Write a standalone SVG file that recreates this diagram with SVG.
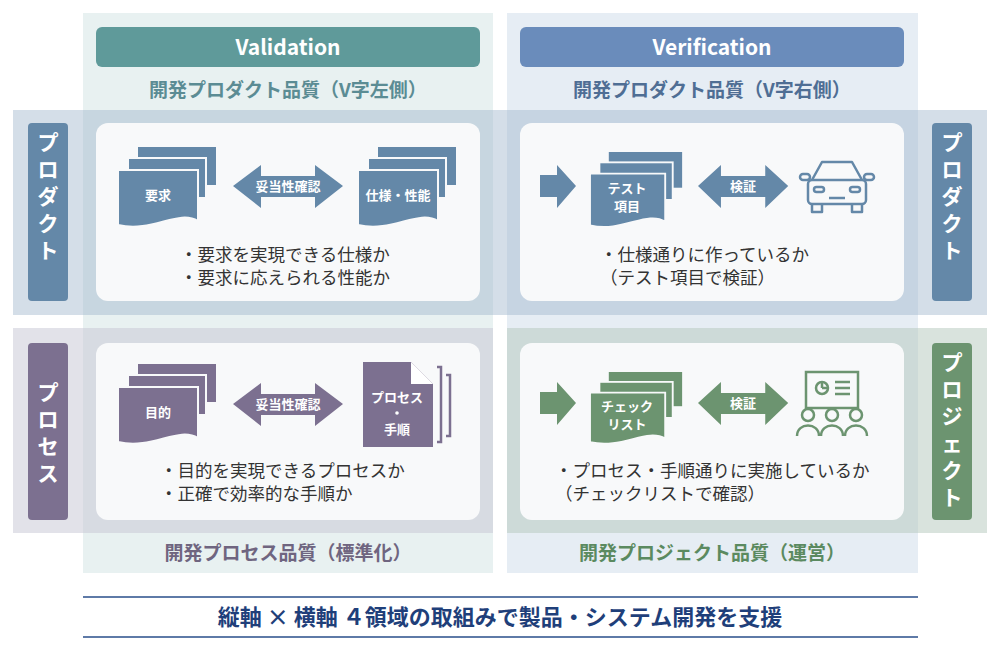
<svg xmlns="http://www.w3.org/2000/svg" width="1000" height="651" viewBox="0 0 1000 651">
<style>
text{font-family:"Noto Sans CJK JP","Noto Sans",sans-serif}
.hd{font-size:21px;font-weight:bold;fill:#fff;text-anchor:middle}
.sub{font-size:19px;font-weight:bold;text-anchor:middle}
.side{font-size:21px;font-weight:bold;fill:#fff;text-anchor:middle}
.in{font-size:13px;font-weight:bold;fill:#fff;text-anchor:middle}
.bl{font-size:17.5px;fill:#333}
.panel{fill:#f8f9fa}
</style>
<defs>
<g id="stack">
<rect x="20" y="0" width="78" height="38"/>
<rect x="10" y="11" width="78" height="40" stroke="#f8f9fa" stroke-width="2"/>
<path d="M0,23 H80 V74 C60,62 35,86 0,78 Z" stroke="#f8f9fa" stroke-width="2"/>
</g>
<path id="dbl" d="M0,21 L28,0 V11 H82 V0 L110,21 L82,43 V32 H28 V43 Z"/>
<path id="ar" d="M0,10 H17 V0 L36,21 L17,43 V32 H0 Z"/>
</defs>
<rect width="1000" height="651" fill="#fff"/>
<rect x="83" y="13" width="410" height="560" fill="#e8f1f1"/>
<rect x="507" y="13" width="411" height="560" fill="#e6edf4"/>
<rect x="13" y="110" width="974" height="205" fill="#9fb6cb" fill-opacity="0.45"/>
<rect x="13" y="328" width="480" height="205" fill="#c6c5d4" fill-opacity="0.5"/>
<rect x="507" y="328" width="480" height="205" fill="#b3c8bb" fill-opacity="0.5"/>
<g id="headers">
<rect x="96" y="27" width="384" height="40" rx="6" fill="#5f9a9a"/>
<text class="hd" x="288" y="55">Validation</text>
<rect x="520" y="27" width="384" height="40" rx="6" fill="#6a8cbb"/>
<text class="hd" x="712" y="55">Verification</text>
<text class="sub" x="288" y="97" fill="#5b8c94">開発プロダクト品質（V字左側）</text>
<text class="sub" x="712" y="97" fill="#4f6e94">開発プロダクト品質（V字右側）</text>
<text class="sub" x="288" y="560" fill="#6f6580">開発プロセス品質（標準化）</text>
<text class="sub" x="712" y="560" fill="#5b8a60">開発プロジェクト品質（運営）</text>
</g>
<g id="sides">
<rect x="28" y="123" width="40" height="178" rx="4" fill="#6488a8"/>
<text class="side" x="48" y="150"><tspan x="48" dy="0">プ</tspan><tspan x="48" dy="27">ロ</tspan><tspan x="48" dy="27">ダ</tspan><tspan x="48" dy="27">ク</tspan><tspan x="48" dy="27">ト</tspan></text>
<rect x="932" y="123" width="40" height="178" rx="4" fill="#6488a8"/>
<text class="side" x="952" y="150"><tspan x="952" dy="0">プ</tspan><tspan x="952" dy="27">ロ</tspan><tspan x="952" dy="27">ダ</tspan><tspan x="952" dy="27">ク</tspan><tspan x="952" dy="27">ト</tspan></text>
<rect x="28" y="343" width="40" height="177" rx="4" fill="#7c7090"/>
<text class="side" x="48" y="400"><tspan x="48" dy="0">プ</tspan><tspan x="48" dy="27">ロ</tspan><tspan x="48" dy="27">セ</tspan><tspan x="48" dy="27">ス</tspan></text>
<rect x="932" y="343" width="40" height="177" rx="4" fill="#6c9470"/>
<text class="side" x="952" y="370"><tspan x="952" dy="0">プ</tspan><tspan x="952" dy="27">ロ</tspan><tspan x="952" dy="27">ジ</tspan><tspan x="952" dy="27">ェ</tspan><tspan x="952" dy="27">ク</tspan><tspan x="952" dy="27">ト</tspan></text>
</g>
<g id="q1">
<rect class="panel" x="96" y="123" width="384" height="178" rx="12"/>
<use href="#stack" x="118" y="147" fill="#6488a8"/>
<text class="in" x="158" y="200">要求</text>
<use href="#dbl" x="233" y="165" fill="#6488a8"/>
<text class="in" x="288" y="191">妥当性確認</text>
<use href="#stack" x="358" y="147" fill="#6488a8"/>
<text class="in" x="398" y="200">仕様・性能</text>
<text class="bl" x="180" y="261">・要求を実現できる仕様か</text>
<text class="bl" x="180" y="284">・要求に応えられる性能か</text>
</g>
<g id="q2">
<rect class="panel" x="520" y="123" width="384" height="178" rx="12"/>
<use href="#ar" x="540" y="165" fill="#6488a8"/>
<use href="#stack" x="590" y="152" fill="#6488a8" transform="translate(590 152) scale(0.94) translate(-590 -152)"/>
<text class="in" x="627" y="193">テスト</text>
<text class="in" x="627" y="211">項目</text>
<use href="#dbl" x="698" y="165" fill="#6488a8" transform="translate(698 165) scale(0.82 1) translate(-698 -165)"/>
<text class="in" x="743" y="191">検証</text>
<g fill="none" stroke="#6488a8" stroke-width="2.5" stroke-linejoin="round">
<path d="M812,180 L822,162 H852 L862,180"/>
<rect x="808" y="180" width="58" height="24" rx="4"/>
<path d="M812,204 V212 H822 V204 M852,204 V212 H862 V204"/>
<rect x="800" y="174" width="10" height="6" rx="3"/>
<rect x="864" y="174" width="10" height="6" rx="3"/>
<rect x="814" y="187" width="10" height="5" rx="2.5"/>
<rect x="850" y="187" width="10" height="5" rx="2.5"/>
<path d="M829,198 H845"/>
</g>
<text class="bl" x="600" y="261">・仕様通りに作っているか</text>
<text class="bl" x="600" y="284">（テスト項目で検証）</text>
</g>
<g id="q3">
<rect class="panel" x="96" y="343" width="384" height="177" rx="12"/>
<use href="#stack" x="118" y="364" fill="#7c7090"/>
<text class="in" x="158" y="417">目的</text>
<use href="#dbl" x="233" y="383" fill="#7c7090"/>
<text class="in" x="288" y="409">妥当性確認</text>
<path d="M437,367 H441 V442 H437 M446,375 H450 V436 H446" fill="none" stroke="#7c7090" stroke-width="2.5"/>
<path d="M363,362 H411 L433,384 V447 H363 Z" fill="#7c7090"/>
<path d="M411,362 V384 H433 Z" fill="#fff"/>
<text class="in" x="397" y="402">プロセス</text>
<circle cx="397" cy="413" r="1.8" fill="#fff"/>
<text class="in" x="397" y="434">手順</text>
<text class="bl" x="160" y="477">・目的を実現できるプロセスか</text>
<text class="bl" x="160" y="500">・正確で効率的な手順か</text>
</g>
<g id="q4">
<rect class="panel" x="520" y="343" width="384" height="177" rx="12"/>
<use href="#ar" x="540" y="382" fill="#6c9470"/>
<use href="#stack" x="590" y="372" fill="#6c9470" transform="translate(590 372) scale(0.94 0.9) translate(-590 -372)"/>
<text class="in" x="627" y="411">チェック</text>
<text class="in" x="627" y="429">リスト</text>
<use href="#dbl" x="698" y="382" fill="#6c9470" transform="translate(698 382) scale(0.82 1) translate(-698 -382)"/>
<text class="in" x="743" y="408">検証</text>
<g fill="none" stroke="#6c9470" stroke-width="2.5">
<rect x="806" y="372" width="52" height="36"/>
<circle cx="822" cy="388" r="6"/>
<path d="M822,388 V383 M822,388 H827"/>
<path d="M835,382 H850 M835,388 H850 M835,394 H850"/>
<circle cx="808" cy="415" r="6"/><circle cx="832" cy="415" r="6"/><circle cx="856" cy="415" r="6"/>
<path d="M797,436 C797,422 819,422 819,436 M821,436 C821,422 843,422 843,436 M845,436 C845,422 867,422 867,436"/>
</g>
<text class="bl" x="555" y="477">・プロセス・手順通りに実施しているか</text>
<text class="bl" x="555" y="500">（チェックリストで確認）</text>
</g>
<g id="footer">
<path d="M83,597 H918 M83,637 H918" stroke="#2a4f8a" stroke-width="1.5"/>
<text x="500" y="625" text-anchor="middle" font-size="22" font-weight="bold" fill="#1f3f7a">縦軸 × 横軸 ４領域の取組みで製品・システム開発を支援</text>
</g>
</svg>
